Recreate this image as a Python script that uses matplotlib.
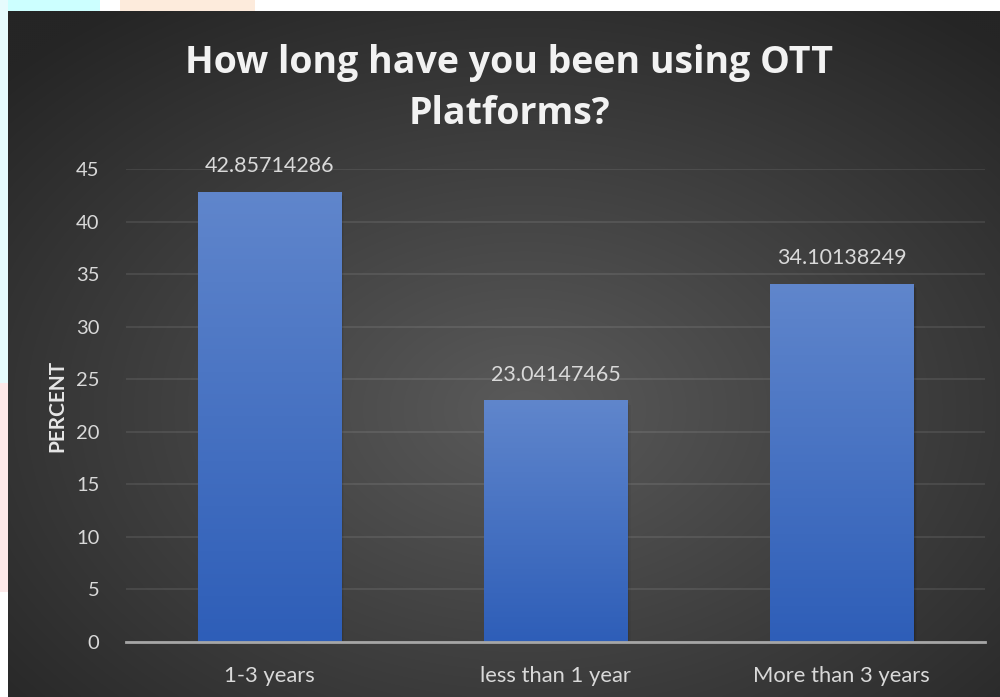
import numpy as np
import matplotlib
matplotlib.use("Agg")
import matplotlib.pyplot as plt
from matplotlib.patches import Rectangle

categories = ["1-3 years", "less than 1 year", "More than 3 years"]
values = [42.85714286, 23.04147465, 34.10138249]
value_labels = ["42.85714286", "23.04147465", "34.10138249"]
yticks = [0, 5, 10, 15, 20, 25, 30, 35, 40, 45]
title = "How long have you been using OTT\nPlatforms?"
ylabel = "PERCENT"

W, H = 1000, 697
fig = plt.figure(figsize=(W / 100, H / 100), dpi=100)
fig.patch.set_facecolor("white")

# decorative outer background bits
fig.patches.append(Rectangle((0, 1 - 11 / H), 100 / W, 11 / H, transform=fig.transFigure,
                             facecolor="#ccffff", edgecolor="none", zorder=0))
fig.patches.append(Rectangle((0, 0.45), 8 / W, 0.55, transform=fig.transFigure,
                             facecolor="#e6fbfd", edgecolor="none", zorder=0))
fig.patches.append(Rectangle((0, 0.15), 8 / W, 0.3, transform=fig.transFigure,
                             facecolor="#fde9e9", edgecolor="none", zorder=0))
fig.patches.append(Rectangle((120 / W, 1 - 11 / H), 135 / W, 11 / H, transform=fig.transFigure,
                             facecolor="#fdebdc", edgecolor="none", zorder=0))

# dark radial-gradient background
bg = fig.add_axes([8 / W, 0, 1 - 8 / W, 1 - 11 / H], zorder=0)
ny, nx = 343, 496
yy, xx = np.mgrid[0:ny, 0:nx]
cx, cy = 0.52 * nx, 0.58 * ny
d = np.sqrt(((xx - cx) / nx) ** 2 + ((yy - cy) / ny) ** 2)
d = np.clip(d / 0.72, 0, 1)
light = np.array([0x5a, 0x5a, 0x5a]) / 255
dark = np.array([0x25, 0x25, 0x25]) / 255
img = light[None, None, :] * (1 - d[..., None]) + dark[None, None, :] * d[..., None]
bg.imshow(img, aspect="auto", extent=[0, 1, 0, 1], interpolation="bilinear")
bg.set_axis_off()

ax = fig.add_axes([126 / W, 1 - 642 / H, (985 - 126) / W, (642 - 169) / H], zorder=1)
ax.set_facecolor("none")
x = np.arange(len(categories))
bars = ax.bar(x, values, width=0.5, color="none", edgecolor="none", zorder=3)

top_c = np.array([0x60, 0x86, 0xcc]) / 255
bot_c = np.array([0x2e, 0x5e, 0xb8]) / 255
grad = np.linspace(0, 1, 256)[:, None]
gimg = top_c[None, None, :] * (1 - grad[..., None]) + bot_c[None, None, :] * grad[..., None]
gimg = np.repeat(gimg, 2, axis=1)
for b in bars:
    x0, w, h = b.get_x(), b.get_width(), b.get_height()
    # soft shadow
    for i, a in enumerate([0.10, 0.07, 0.04]):
        ax.add_patch(Rectangle((x0 + 0.004 * (i + 1), 0), w, h - 0.15 * (i + 1), facecolor="black",
                               alpha=a, edgecolor="none", zorder=2))
    im = ax.imshow(gimg, extent=[x0, x0 + w, 0, h], aspect="auto", zorder=3, interpolation="bilinear")
    im.set_clip_path(b)

for xi, v, lab in zip(x, values, value_labels):
    ax.annotate(lab, (xi, v), xytext=(0, 11), textcoords="offset points", ha="center", va="bottom",
                color="#d9d9d9", fontsize=15.5, family="Lato")

ax.set_xlim(-0.5, 2.5)
ax.set_ylim(0, 45)
ax.set_yticks(yticks)
ax.set_xticks(x)
ax.set_xticklabels(categories)
ax.tick_params(axis="both", length=0, colors="#d9d9d9")
ax.tick_params(axis="y", pad=19, labelsize=14.5)
ax.tick_params(axis="x", pad=17, labelsize=15.8)
for t in ax.get_xticklabels() + ax.get_yticklabels():
    t.set_family("Lato")
ax.grid(axis="y", color="#ffffff", alpha=0.1, linewidth=1.2, zorder=1)
ax.set_axisbelow(True)
for s in ["top", "right", "left"]:
    ax.spines[s].set_visible(False)
ax.spines["bottom"].set_color("#a6a6a6")
ax.spines["bottom"].set_linewidth(2)
ax.spines["bottom"].set_zorder(4)

ax.set_ylabel(ylabel, color="#e6e6e6", fontsize=15, fontweight="bold", family="Lato")
ax.yaxis.set_label_coords((67 - 126) / (985 - 126), 0.5)

fig.text(0.509, 1 - 88.5 / H, title, ha="center", va="center", fontsize=27, fontweight="bold",
         family="Open Sans", color="#f2f2f2", linespacing=1.42)

fig.savefig("out.png", dpi=100, facecolor=fig.get_facecolor())
